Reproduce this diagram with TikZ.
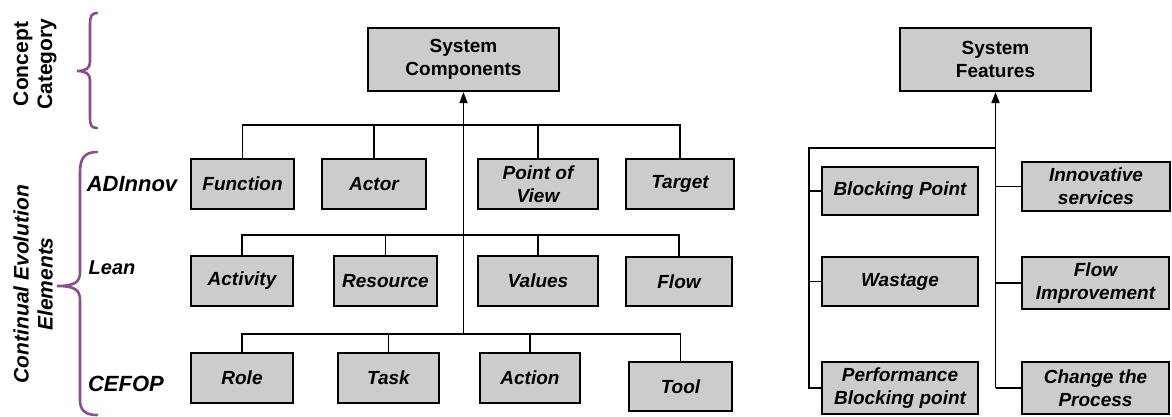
\documentclass[tikz,border=0pt]{standalone}
\usepackage{fontspec}
\setmainfont{Liberation Sans}
\usetikzlibrary{arrows.meta}
\definecolor{boxgray}{RGB}{204,204,204}
\definecolor{bracepurple}{RGB}{137,78,140}
\tikzset{
  box/.style={draw=black, line width=2.2pt, fill=boxgray, align=center, inner sep=0pt,
    font=\bfseries\itshape\fontsize{19}{23}\selectfont},
  topbox/.style={box, font=\bfseries\fontsize{19}{23}\selectfont},
  conn/.style={draw=black, line width=1.7pt},
  upArrow/.style={conn, -{Triangle[length=11pt,width=8pt]}},
  rowlabel/.style={font=\bfseries\itshape\fontsize{22}{26}\selectfont, inner sep=0pt},
  sidelabel/.style={rotate=90, align=center, inner sep=0pt},
  purplebrace/.style={draw=bracepurple, line width=2.6pt, line cap=round}
}
\begin{document}
\begin{tikzpicture}[x=1pt,y=-1pt]
\useasboundingbox (0,0) rectangle (1172,416);
% side labels and braces
\node[sidelabel, font=\bfseries\fontsize{21}{24}\selectfont] (cc) at (35,64) {Concept\\Category};
\node[sidelabel, font=\bfseries\itshape\fontsize{21}{24}\selectfont] (cee) at (33,284) {Continual Evolution\\Elements};
\draw[purplebrace] (97,13) .. controls (91,13) and (90,17) .. (90,25) -- (90,62)
  .. controls (90,68) and (86,71) .. (77,71)
  .. controls (86,71) and (90,74) .. (90,80) -- (90,117)
  .. controls (90,125) and (91,128) .. (97,128);
\draw[purplebrace] (97,152) .. controls (85,152) and (80,158) .. (80,172) -- (80,272)
  .. controls (80,282) and (75,286) .. (57,286)
  .. controls (75,286) and (80,290) .. (80,300) -- (80,400)
  .. controls (80,410) and (85,415) .. (97,415);
\node[rowlabel] (adi) at (132,184) {ADInnov};
\node[rowlabel, font=\bfseries\itshape\fontsize{20}{24}\selectfont] (lean) at (112,268) {Lean};
\node[rowlabel] (cefop) at (126,384) {CEFOP};
% top boxes
\node[topbox, minimum width=191pt, minimum height=63pt] (sc) at (463.5,59.5) {System\\Components};
\node[topbox, minimum width=191pt, minimum height=63pt] (sf) at (995.5,59.5) {System\\Features};
% row 1
\node[box, minimum width=103pt, minimum height=50pt] (fun) at (242.5,184) {Function};
\node[box, minimum width=104pt, minimum height=50pt] (act) at (374,184) {Actor};
\node[box, minimum width=120pt, minimum height=50pt] (pov) at (538,184) {Point of\\View};
\node[box, minimum width=108pt, minimum height=50pt] (tar) at (680,184) {Target};
% row 2
\node[box, minimum width=102pt, minimum height=50pt] (acty) at (242,281) {Activity};
\node[box, minimum width=103pt, minimum height=50pt] (res) at (385.5,281) {Resource};
\node[box, minimum width=120pt, minimum height=50pt] (val) at (538,281) {Values};
\node[box, minimum width=106pt, minimum height=49pt] (flo) at (679,281.5) {Flow};
% row 3
\node[box, minimum width=102pt, minimum height=50pt] (rol) at (242,378) {Role};
\node[box, minimum width=101pt, minimum height=50pt] (tas) at (388.5,378) {Task};
\node[box, minimum width=100pt, minimum height=50pt] (acn) at (530,378) {Action};
\node[box, minimum width=103pt, minimum height=49pt] (too) at (680.5,386.5) {Tool};
% features
\node[box, minimum width=156pt, minimum height=48pt] (bp) at (900,191) {Blocking Point};
\node[box, minimum width=156pt, minimum height=49pt] (was) at (900,281.5) {Wastage};
\node[box, minimum width=156pt, minimum height=52pt] (pbp) at (900,388) {Performance\\Blocking point};
\node[box, minimum width=148pt, minimum height=49pt] (inn) at (1096,186.5) {Innovative\\services};
\node[box, minimum width=147pt, minimum height=52pt] (fim) at (1095.5,283) {Flow\\Improvement};
\node[box, minimum width=147pt, minimum height=52pt] (chp) at (1095.5,388) {Change the\\Process};
% components connectors
\coordinate (b1) at (463.5,125);
\coordinate (b2) at (463.5,235);
\coordinate (b3) at (463.5,334);
\draw[conn] (fun.north) |- (b1) -| (tar.north);
\draw[conn] (act.north) -- (act.north |- b1);
\draw[conn] (pov.north) -- (pov.north |- b1);
\draw[conn] (acty.north) |- (b2) -| (flo.north);
\draw[conn] (res.north) -- (res.north |- b2);
\draw[conn] (val.north) -- (val.north |- b2);
\draw[conn] (rol.north) |- (b3) -| (too.north);
\draw[conn] (tas.north) -- (tas.north |- b3);
\draw[conn] (acn.north) -- (acn.north |- b3);
\draw[upArrow] (b3) -- (sc.south);
% features connectors
\coordinate (fb) at (995.5,148);
\coordinate (lb) at (809,148);
\coordinate (lbot) at (809,388);
\coordinate (rbot) at (995.5,388);
\draw[conn] (fb) -- (lb) -- (lbot) -- (pbp.west);
\draw[conn] (lb |- bp.west) -- (bp.west);
\draw[conn] (lb |- was.west) -- (was.west);
\draw[upArrow] (rbot) -- (sf.south);
\draw[conn] (rbot) -- (chp.west);
\draw[conn] (fb |- inn.west) -- (inn.west);
\draw[conn] (fb |- fim.west) -- (fim.west);
\end{tikzpicture}
\end{document}
